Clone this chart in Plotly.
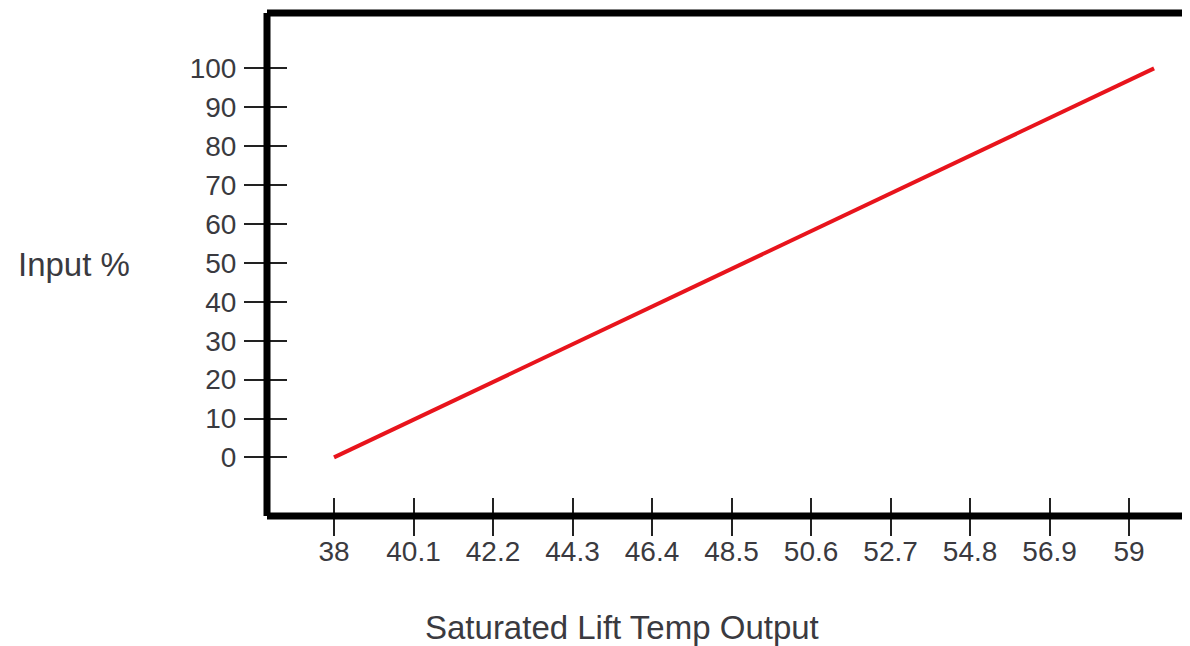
import plotly.graph_objects as go

# 数据
temp_output = [38, 59.66]
input_pct = [0, 100]

x_ticks = [38, 40.1, 42.2, 44.3, 46.4, 48.5, 50.6, 52.7, 54.8, 56.9, 59]
x_tick_text = ['38', '40.1', '42.2', '44.3', '46.4', '48.5', '50.6', '52.7', '54.8', '56.9', '59']
y_ticks = [0, 10, 20, 30, 40, 50, 60, 70, 80, 90, 100]

x_range = [36.23, 60.82]
y_range = [-15.06, 114.23]

text_color = '#3a3a40'
tick_font = dict(family='Liberation Sans, Arial, sans-serif', size=28, color=text_color)
title_font = dict(family='Liberation Sans, Arial, sans-serif', size=33, color=text_color)

fig = go.Figure()

fig.add_trace(go.Scatter(
    x=temp_output,
    y=input_pct,
    mode='lines',
    line=dict(color='#e8141c', width=4),
    showlegend=False,
    hoverinfo='skip'
))

# 第二组坐标轴只用来画穿过轴线的内侧刻度
fig.add_trace(go.Scatter(
    x=temp_output,
    y=input_pct,
    xaxis='x2',
    yaxis='y2',
    mode='lines',
    line=dict(width=0),
    showlegend=False,
    hoverinfo='skip'
))

common_axis = dict(showgrid=False, zeroline=False, showline=False, tickwidth=2, tickcolor='#222')

# 页面 body 自带 8px 边距, 这里的边距已经扣掉
fig.update_layout(
    width=1190,
    height=646,
    paper_bgcolor='white',
    plot_bgcolor='white',
    margin=dict(l=259, r=0, t=5, b=138),
    xaxis=dict(
        range=x_range,
        tickmode='array',
        tickvals=x_ticks,
        ticktext=x_tick_text,
        ticks='outside',
        ticklen=19,
        tickfont=tick_font,
        ticklabelstandoff=-9,
        **common_axis
    ),
    yaxis=dict(
        range=y_range,
        tickmode='array',
        tickvals=y_ticks,
        ticks='outside',
        ticklen=22,
        tickfont=tick_font,
        ticklabelstandoff=2,
        **common_axis
    ),
    xaxis2=dict(
        range=x_range,
        overlaying='x',
        anchor='y2',
        side='bottom',
        tickmode='array',
        tickvals=x_ticks,
        ticks='inside',
        ticklen=18,
        showticklabels=False,
        **common_axis
    ),
    yaxis2=dict(
        range=y_range,
        overlaying='y',
        anchor='x2',
        side='left',
        tickmode='array',
        tickvals=y_ticks,
        ticks='inside',
        ticklen=20,
        showticklabels=False,
        **common_axis
    ),
)

# 粗黑边框(右侧在画面外)
for x0, y0, x1, y1 in [(0, 0, 0, 1), (0, 1, 1, 1), (0, 0, 1, 0)]:
    fig.add_shape(type='line', xref='paper', yref='paper',
                  x0=x0, y0=y0, x1=x1, y1=y1,
                  line=dict(color='black', width=7))

fig.add_annotation(text='Input %', xref='paper', yref='paper',
                   x=-0.27, y=0.5, xanchor='left', yanchor='middle',
                   showarrow=False, font=title_font)

fig.add_annotation(text='Saturated Lift Temp Output', xref='paper', yref='paper',
                   x=0.3813, y=-0.221, xanchor='center', yanchor='middle',
                   showarrow=False, font=title_font)

fig.write_html('out.html')
